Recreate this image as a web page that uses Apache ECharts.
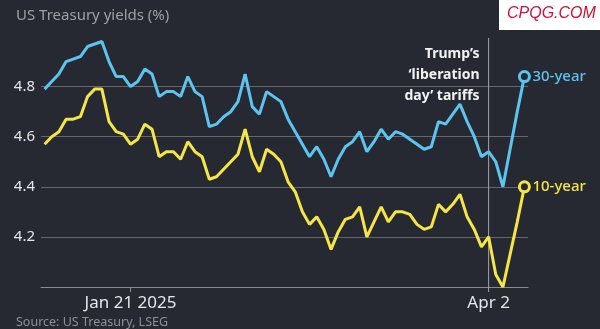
<!DOCTYPE html>
<html><head><meta charset="utf-8">
<script src="https://cdn.jsdelivr.net/npm/echarts@6/dist/echarts.min.js"></script>
<style>html,body{margin:0;padding:0;background:#262931;}#c{width:600px;height:329px;}</style>
</head><body><div id="c"></div>
<script>
const dates = ['2024-12-31',
'2025-01-02','2025-01-03','2025-01-06','2025-01-07','2025-01-08','2025-01-10','2025-01-13','2025-01-14','2025-01-15','2025-01-16','2025-01-17','2025-01-21','2025-01-22','2025-01-23','2025-01-24','2025-01-27','2025-01-28','2025-01-29','2025-01-30','2025-01-31',
'2025-02-03','2025-02-04','2025-02-05','2025-02-06','2025-02-07','2025-02-10','2025-02-11','2025-02-12','2025-02-13','2025-02-14','2025-02-18','2025-02-19','2025-02-20','2025-02-21','2025-02-24','2025-02-25','2025-02-26','2025-02-27','2025-02-28',
'2025-03-03','2025-03-04','2025-03-05','2025-03-06','2025-03-07','2025-03-10','2025-03-11','2025-03-12','2025-03-13','2025-03-14','2025-03-17','2025-03-18','2025-03-19','2025-03-20','2025-03-21','2025-03-24','2025-03-25','2025-03-26','2025-03-27','2025-03-28','2025-03-31',
'2025-04-01','2025-04-02','2025-04-03','2025-04-04','2025-04-07','2025-04-08','2025-04-09'];

const yield30 = [4.79,4.82,4.85,4.90,4.91,4.92,4.96,4.97,4.98,4.90,4.84,4.84,4.80,4.82,4.87,4.85,4.76,4.78,4.78,4.76,4.84,4.78,4.76,
4.64,4.65,4.68,4.70,4.74,4.85,4.72,4.69,4.78,4.76,4.74,4.67,4.62,4.57,4.52,4.56,4.51,4.44,4.51,4.56,4.58,4.62,
4.54,4.58,4.63,4.59,4.62,4.61,4.59,4.57,4.55,4.56,4.66,4.65,4.69,4.73,4.66,4.60,4.52,4.54,4.50,4.40,4.55,4.70,4.84];

const yield10 = [4.57,4.60,4.62,4.67,4.67,4.68,4.76,4.79,4.79,4.66,4.62,4.61,4.57,4.59,4.65,4.63,4.52,4.54,4.54,4.51,4.58,4.54,4.52,
4.43,4.44,4.47,4.50,4.53,4.63,4.52,4.46,4.55,4.53,4.50,4.42,4.38,4.30,4.25,4.28,4.23,4.15,4.22,4.27,4.28,4.32,
4.20,4.26,4.32,4.26,4.30,4.30,4.29,4.25,4.23,4.24,4.33,4.30,4.33,4.37,4.28,4.23,4.16,4.20,4.05,4.00,4.13,4.26,4.40];

const tickDates = ['2025-01-21','2025-04-02'];
const tickLabels = ['Jan 21 2025','Apr 2'];
const eventDate = '2025-04-02';
const eventText = 'Trump\u2019s\n\u2018liberation\nday\u2019 tariffs';
const seriesNames = ['30-year','10-year'];

const BLUE = '#5cc4ef', YELLOW = '#f4e647', BG = '#262931';
const FONT = 'Noto Sans';

function withEnd(vals, color){
  const last = vals.length - 1;
  return vals.map((v,i)=> i===last ? {value:v, symbol:'circle', symbolSize:10,
    itemStyle:{color:BG, borderColor:color, borderWidth:3}} : v);
}

const chart = echarts.init(document.getElementById('c'), null, {renderer:'canvas'});
chart.setOption({
  backgroundColor: BG,
  animation: false,
  textStyle: {fontFamily: FONT},
  grid: {left: 41, right: 72, top: 36.5, bottom: 42},
  title: [
    {text: 'US Treasury yields (%)', left: 11, top: 3,
     textStyle: {color: '#9ea0a5', fontSize: 15, fontWeight: 'normal', fontFamily: FONT}},
    {text: 'Source: US Treasury, LSEG', left: 11, top: 311,
     textStyle: {color: '#8e9096', fontSize: 12.5, fontWeight: 'normal', fontFamily: FONT}}
  ],
  xAxis: {
    type: 'category', data: dates, boundaryGap: true,
    axisLine: {lineStyle: {color: '#8a8c92', width: 1}},
    axisTick: {show: true, alignWithLabel: true, length: 5, lineStyle:{color:'#8a8c92'},
      interval: (i, v) => v === tickDates[0]},
    axisLabel: {
      interval: (i, v) => tickDates.indexOf(v) >= 0,
      formatter: v => tickLabels[tickDates.indexOf(v)] || '',
      color: '#e6e6e8', fontSize: 17, margin: 8, fontFamily: FONT
    },
    splitLine: {show: false}
  },
  yAxis: {
    type: 'value', min: 4.0, max: 5.0, interval: 0.2,
    axisLine: {show: false}, axisTick: {show: false},
    axisLabel: {color: '#e6e6e8', fontSize: 15, margin: 6, showMinLabel: false, showMaxLabel: false,
      formatter: v => v.toFixed(1), fontFamily: FONT},
    splitLine: {show: true, showMinLine: false, showMaxLine: false, lineStyle: {color: '#65676d', width: 1}}
  },
  series: [
    {
      name: seriesNames[0], type: 'line', data: withEnd(yield30, BLUE),
      symbol: 'none', showSymbol: true, showAllSymbol: true,
      lineStyle: {color: BLUE, width: 3}, itemStyle: {color: BLUE},
      endLabel: {show: true, formatter: seriesNames[0], color: BLUE, fontSize: 15, fontWeight: 500, distance: 8, fontFamily: FONT},
      z: 3
    },
    {
      name: seriesNames[1], type: 'line', data: withEnd(yield10, YELLOW),
      symbol: 'none', showSymbol: true, showAllSymbol: true,
      lineStyle: {color: YELLOW, width: 3}, itemStyle: {color: YELLOW},
      endLabel: {show: true, formatter: seriesNames[1], color: YELLOW, fontSize: 15, fontWeight: 500, distance: 8, fontFamily: FONT},
      z: 3
    }
  ]
});

// event line and annotation placed through the axis scale
const ex = chart.convertToPixel({xAxisIndex: 0}, eventDate);
chart.setOption({
  graphic: [
    {type:'line', z: 2, shape:{x1: ex, y1: 38, x2: ex, y2: 292},
     style:{stroke:'#a4a6ab', lineWidth: 1}},
    {type:'text', z: 5, x: ex - 9, y: 44,
     style:{text: eventText, fill:'#f2f2f2', align:'right', verticalAlign:'top',
       font: 'bold 14px "Noto Sans"', lineHeight: 21}},
    {type:'rect', left: 499, top: 0, shape:{width:101, height:30}, style:{fill:'#ffffff'}, z: 10},
    {type:'text', left: 507, top: 6, z: 11,
     style:{text:'CPQG.COM', fill:'#d0103a', font:'italic 16px "Liberation Sans"'}}
  ]
});
</script></body></html>
